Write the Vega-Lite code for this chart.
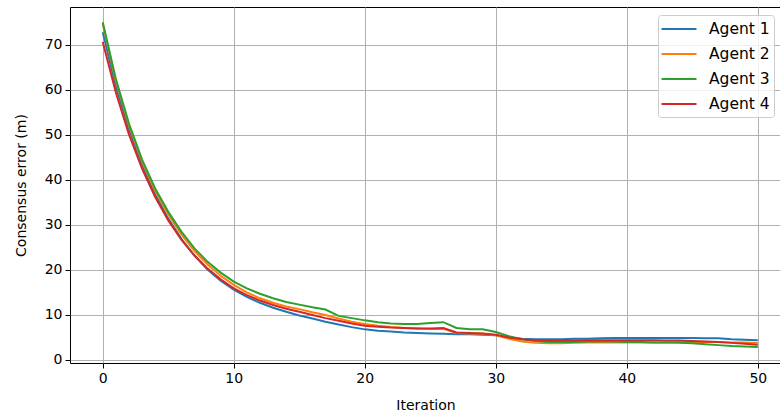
{
  "$schema": "https://vega.github.io/schema/vega-lite/v6.json",
  "autosize": {"type": "none"},
  "width": 711,
  "height": 356,
  "padding": {"left": 70, "top": 7, "right": 0, "bottom": 55},
  "background": "white",
  "data": {
    "values": [
      {"iteration": 0, "Agent 1": 72.8, "Agent 2": 74.6, "Agent 3": 75.0, "Agent 4": 70.6},
      {"iteration": 1, "Agent 1": 60.8, "Agent 2": 62.0, "Agent 3": 62.4, "Agent 4": 59.4},
      {"iteration": 2, "Agent 1": 51.2, "Agent 2": 52.1, "Agent 3": 52.5, "Agent 4": 50.1},
      {"iteration": 3, "Agent 1": 43.3, "Agent 2": 44.1, "Agent 3": 44.5, "Agent 4": 42.5},
      {"iteration": 4, "Agent 1": 36.8, "Agent 2": 37.6, "Agent 3": 38.1, "Agent 4": 36.2},
      {"iteration": 5, "Agent 1": 31.4, "Agent 2": 32.3, "Agent 3": 32.9, "Agent 4": 31.0},
      {"iteration": 6, "Agent 1": 26.9, "Agent 2": 27.9, "Agent 3": 28.5, "Agent 4": 26.7},
      {"iteration": 7, "Agent 1": 23.2, "Agent 2": 24.2, "Agent 3": 24.8, "Agent 4": 23.2},
      {"iteration": 8, "Agent 1": 20.1, "Agent 2": 21.2, "Agent 3": 21.8, "Agent 4": 20.3},
      {"iteration": 9, "Agent 1": 17.6, "Agent 2": 18.7, "Agent 3": 19.4, "Agent 4": 17.9},
      {"iteration": 10, "Agent 1": 15.6, "Agent 2": 16.7, "Agent 3": 17.4, "Agent 4": 15.9},
      {"iteration": 11, "Agent 1": 14.0, "Agent 2": 15.0, "Agent 3": 15.9, "Agent 4": 14.4},
      {"iteration": 12, "Agent 1": 12.7, "Agent 2": 13.7, "Agent 3": 14.7, "Agent 4": 13.2},
      {"iteration": 13, "Agent 1": 11.6, "Agent 2": 12.7, "Agent 3": 13.7, "Agent 4": 12.2},
      {"iteration": 14, "Agent 1": 10.7, "Agent 2": 11.9, "Agent 3": 12.9, "Agent 4": 11.4},
      {"iteration": 15, "Agent 1": 9.9, "Agent 2": 11.3, "Agent 3": 12.3, "Agent 4": 10.7},
      {"iteration": 16, "Agent 1": 9.2, "Agent 2": 10.6, "Agent 3": 11.7, "Agent 4": 10.0},
      {"iteration": 17, "Agent 1": 8.5, "Agent 2": 10.0, "Agent 3": 11.2, "Agent 4": 9.3},
      {"iteration": 18, "Agent 1": 7.9, "Agent 2": 9.2, "Agent 3": 9.8, "Agent 4": 8.7},
      {"iteration": 19, "Agent 1": 7.3, "Agent 2": 8.5, "Agent 3": 9.3, "Agent 4": 8.1},
      {"iteration": 20, "Agent 1": 6.8, "Agent 2": 8.0, "Agent 3": 8.8, "Agent 4": 7.6},
      {"iteration": 21, "Agent 1": 6.5, "Agent 2": 7.6, "Agent 3": 8.4, "Agent 4": 7.4},
      {"iteration": 22, "Agent 1": 6.3, "Agent 2": 7.3, "Agent 3": 8.1, "Agent 4": 7.2},
      {"iteration": 23, "Agent 1": 6.1, "Agent 2": 7.1, "Agent 3": 8.0, "Agent 4": 7.1},
      {"iteration": 24, "Agent 1": 6.0, "Agent 2": 7.0, "Agent 3": 8.0, "Agent 4": 7.0},
      {"iteration": 25, "Agent 1": 5.9, "Agent 2": 6.9, "Agent 3": 8.2, "Agent 4": 7.0},
      {"iteration": 26, "Agent 1": 5.8, "Agent 2": 6.9, "Agent 3": 8.4, "Agent 4": 7.1},
      {"iteration": 27, "Agent 1": 5.7, "Agent 2": 6.0, "Agent 3": 7.1, "Agent 4": 6.1},
      {"iteration": 28, "Agent 1": 5.7, "Agent 2": 5.9, "Agent 3": 6.8, "Agent 4": 6.0},
      {"iteration": 29, "Agent 1": 5.6, "Agent 2": 5.8, "Agent 3": 6.8, "Agent 4": 5.9},
      {"iteration": 30, "Agent 1": 5.5, "Agent 2": 5.5, "Agent 3": 6.2, "Agent 4": 5.6},
      {"iteration": 31, "Agent 1": 5.0, "Agent 2": 4.7, "Agent 3": 5.3, "Agent 4": 5.0},
      {"iteration": 32, "Agent 1": 4.7, "Agent 2": 4.1, "Agent 3": 4.6, "Agent 4": 4.6},
      {"iteration": 33, "Agent 1": 4.6, "Agent 2": 3.8, "Agent 3": 4.2, "Agent 4": 4.4},
      {"iteration": 34, "Agent 1": 4.6, "Agent 2": 3.7, "Agent 3": 4.0, "Agent 4": 4.3},
      {"iteration": 35, "Agent 1": 4.6, "Agent 2": 3.7, "Agent 3": 4.0, "Agent 4": 4.3},
      {"iteration": 36, "Agent 1": 4.7, "Agent 2": 3.8, "Agent 3": 4.0, "Agent 4": 4.3},
      {"iteration": 37, "Agent 1": 4.7, "Agent 2": 3.9, "Agent 3": 4.1, "Agent 4": 4.4},
      {"iteration": 38, "Agent 1": 4.8, "Agent 2": 3.9, "Agent 3": 4.1, "Agent 4": 4.4},
      {"iteration": 39, "Agent 1": 4.9, "Agent 2": 3.9, "Agent 3": 4.1, "Agent 4": 4.4},
      {"iteration": 40, "Agent 1": 4.9, "Agent 2": 3.9, "Agent 3": 4.0, "Agent 4": 4.4},
      {"iteration": 41, "Agent 1": 4.9, "Agent 2": 3.9, "Agent 3": 4.0, "Agent 4": 4.4},
      {"iteration": 42, "Agent 1": 4.9, "Agent 2": 3.9, "Agent 3": 3.9, "Agent 4": 4.4},
      {"iteration": 43, "Agent 1": 4.9, "Agent 2": 3.9, "Agent 3": 3.9, "Agent 4": 4.3},
      {"iteration": 44, "Agent 1": 4.9, "Agent 2": 4.0, "Agent 3": 3.8, "Agent 4": 4.3},
      {"iteration": 45, "Agent 1": 4.9, "Agent 2": 4.0, "Agent 3": 3.7, "Agent 4": 4.2},
      {"iteration": 46, "Agent 1": 4.8, "Agent 2": 4.0, "Agent 3": 3.5, "Agent 4": 4.1},
      {"iteration": 47, "Agent 1": 4.8, "Agent 2": 4.0, "Agent 3": 3.3, "Agent 4": 4.0},
      {"iteration": 48, "Agent 1": 4.6, "Agent 2": 3.9, "Agent 3": 3.1, "Agent 4": 3.8},
      {"iteration": 49, "Agent 1": 4.5, "Agent 2": 3.9, "Agent 3": 3.0, "Agent 4": 3.6},
      {"iteration": 50, "Agent 1": 4.4, "Agent 2": 3.8, "Agent 3": 2.9, "Agent 4": 3.4}
    ]
  },
  "transform": [
    {"fold": ["Agent 1", "Agent 2", "Agent 3", "Agent 4"], "as": ["agent", "error"]}
  ],
  "mark": {"type": "line", "strokeWidth": 2, "clip": true},
  "encoding": {
    "x": {
      "field": "iteration",
      "type": "quantitative",
      "scale": {"domain": [-2.5, 51.77], "nice": false, "zero": false},
      "axis": {"values": [0, 10, 20, 30, 40, 50], "title": "Iteration", "format": "d"}
    },
    "y": {
      "field": "error",
      "type": "quantitative",
      "scale": {"domain": [-0.67, 78.4], "nice": false, "zero": false},
      "axis": {"values": [0, 10, 20, 30, 40, 50, 60, 70], "title": "Consensus error (m)", "format": "d"}
    },
    "color": {
      "field": "agent",
      "type": "nominal",
      "scale": {"domain": ["Agent 1", "Agent 2", "Agent 3", "Agent 4"], "range": ["#1f77b4", "#ff7f0e", "#2ca02c", "#d62728"]},
      "legend": {
        "title": null,
        "orient": "none",
        "legendX": 588,
        "legendY": 8,
        "symbolType": "M-1.21,0H2.83",
        "symbolSize": 300,
        "symbolStrokeWidth": 2,
        "labelOffset": 27,
        "labelFontSize": 15.5,
        "labelFont": "DejaVu Sans",
        "labelColor": "#000000",
        "rowPadding": 6,
        "padding": 4,
        "fillColor": "rgba(255,255,255,0.8)",
        "strokeColor": "#cccccc",
        "cornerRadius": 3
      }
    },
    "order": {"field": "iteration"}
  },
  "config": {
    "font": "DejaVu Sans",
    "view": {"stroke": "#000000", "strokeWidth": 1},
    "axis": {
      "domain": false,
      "grid": true,
      "gridColor": "#b0b0b0",
      "gridWidth": 1,
      "tickColor": "#000000",
      "tickSize": 5,
      "tickWidth": 1,
      "labelFontSize": 14,
      "labelColor": "#000000",
      "labelFont": "DejaVu Sans",
      "labelPadding": 3,
      "titleFontSize": 14,
      "titleFontWeight": "normal",
      "titleColor": "#000000",
      "titleFont": "DejaVu Sans"
    },
    "axisX": {"titlePadding": 13, "labelFlush": false},
    "axisY": {"titlePadding": 16}
  }
}
